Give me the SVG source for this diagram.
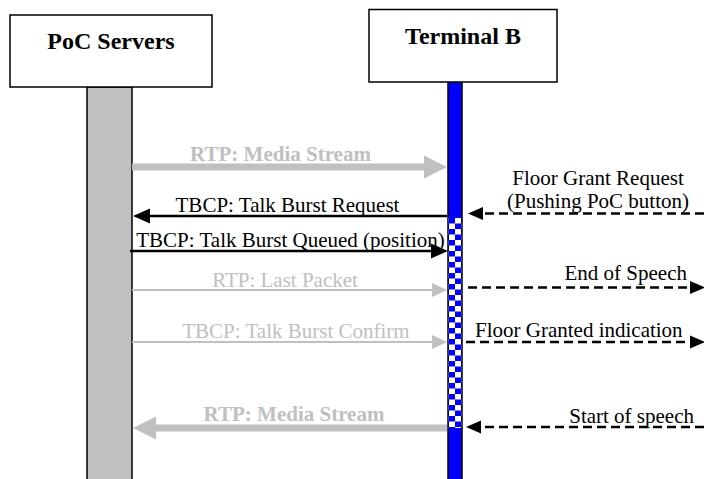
<svg xmlns="http://www.w3.org/2000/svg" width="704" height="479" viewBox="0 0 704 479">
<style>
.box{fill:#fff;stroke:#000;stroke-width:1.5}
.title{font-family:"Liberation Serif","Times New Roman",serif;font-weight:bold;font-size:24px;text-anchor:middle;fill:#000}
.lbl{font-family:"Liberation Serif","Times New Roman",serif;font-size:21px;fill:#000}
.mid{text-anchor:middle}
.end{text-anchor:end}
.gray{fill:#c0c0c0}
.bold{font-weight:bold}
.thick{stroke:#c0c0c0;stroke-width:7;fill:none}
.thin{stroke:#c0c0c0;stroke-width:2.2;fill:none}
.solid{stroke:#000;stroke-width:2.5;fill:none}
.dash{stroke:#000;stroke-width:2.5;stroke-dasharray:9 5;fill:none}
</style>
<defs>
<marker id="mThick" markerUnits="userSpaceOnUse" markerWidth="23" markerHeight="23" refX="0" refY="11.5" orient="auto" overflow="visible"><path d="M0,0 L23,11.5 L0,23 z" fill="#c0c0c0"/></marker>
<marker id="mThin" markerUnits="userSpaceOnUse" markerWidth="15" markerHeight="14" refX="0" refY="7" orient="auto" overflow="visible"><path d="M0,0 L15,7 L0,14 z" fill="#c0c0c0"/></marker>
<marker id="mBlack" markerUnits="userSpaceOnUse" markerWidth="17" markerHeight="15" refX="0" refY="7.5" orient="auto" overflow="visible"><path d="M0,0 L17,7.5 L0,15 z" fill="#000"/></marker>
<marker id="mDash" markerUnits="userSpaceOnUse" markerWidth="15" markerHeight="13" refX="0" refY="6.5" orient="auto" overflow="visible"><path d="M0,0 L15,6.5 L0,13 z" fill="#000"/></marker>
<pattern id="chk" x="449" y="218" width="12" height="11" patternUnits="userSpaceOnUse"><rect width="12" height="11" fill="#0000ff"/><rect x="6" y="0" width="6" height="5.5" fill="#fff"/><rect x="0" y="5.5" width="6" height="5.5" fill="#fff"/></pattern>
</defs>

<g id="poc-servers">
<rect x="87" y="87" width="45" height="400" fill="#c0c0c0" stroke="#000" stroke-width="1.5"/>
<rect class="box" x="10" y="15" width="202" height="72"/>
<text class="title" x="111" y="49">PoC Servers</text>
</g>

<g id="terminal-b">
<rect x="448" y="82" width="14" height="405" fill="#0000ff" stroke="#000" stroke-width="1.5"/>
<rect x="448.75" y="218" width="12.5" height="210" fill="url(#chk)"/>
<rect class="box" x="369" y="9.5" width="188" height="72.5"/>
<text class="title" x="463" y="44">Terminal B</text>
</g>

<g id="connectors">
<line class="thick" x1="132" y1="167" x2="424" y2="167" marker-end="url(#mThick)"/>
<line class="solid" x1="447" y1="216" x2="150" y2="216" marker-end="url(#mBlack)"/>
<line class="solid" x1="130" y1="251" x2="431" y2="251" marker-end="url(#mBlack)"/>
<line class="thin" x1="132" y1="290" x2="432" y2="290" marker-end="url(#mThin)"/>
<line class="thin" x1="132" y1="342" x2="432" y2="342" marker-end="url(#mThin)"/>
<line class="thick" x1="447" y1="428" x2="156" y2="428" marker-end="url(#mThick)"/>
<line class="dash" x1="704" y1="213.5" x2="483" y2="213.5" marker-end="url(#mDash)"/>
<line class="dash" x1="468" y1="287.5" x2="690" y2="287.5" marker-end="url(#mDash)"/>
<line class="dash" x1="466" y1="342" x2="690" y2="342" marker-end="url(#mDash)"/>
<line class="dash" x1="704" y1="427" x2="481" y2="427" marker-end="url(#mDash)"/>
</g>

<g id="labels">
<text class="lbl mid gray bold" x="280.5" y="161">RTP: Media Stream</text>
<text class="lbl mid" x="287.5" y="212">TBCP: Talk Burst Request</text>
<text class="lbl mid" x="290.5" y="247">TBCP: Talk Burst Queued (position)</text>
<text class="lbl mid gray" x="285" y="287">RTP: Last Packet</text>
<text class="lbl mid gray" x="296" y="338">TBCP: Talk Burst Confirm</text>
<text class="lbl mid gray bold" x="294" y="421">RTP: Media Stream</text>
<text class="lbl mid" x="598" y="185">Floor Grant Request</text>
<text class="lbl mid" x="598" y="208">(Pushing PoC button)</text>
<text class="lbl end" x="687" y="280">End of Speech</text>
<text class="lbl" x="475" y="337">Floor Granted indication</text>
<text class="lbl end" x="694" y="423">Start of speech</text>
</g>
</svg>
